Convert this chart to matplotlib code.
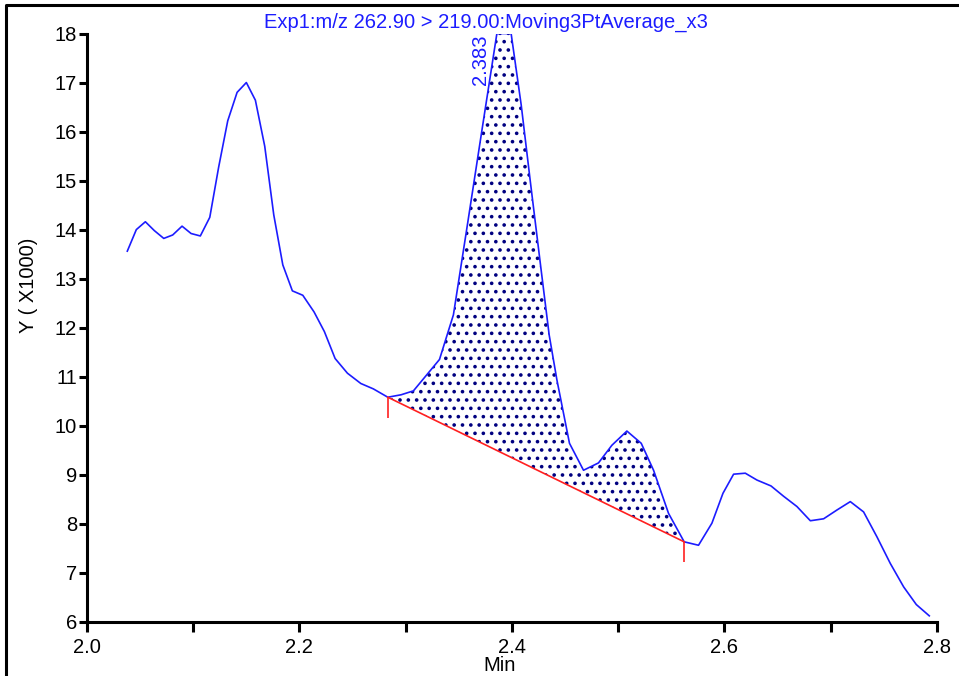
import numpy as np
import matplotlib.pyplot as plt
from matplotlib.lines import Line2D

plt.rcParams['font.family'] = ['Liberation Sans', 'DejaVu Sans']
plt.rcParams['hatch.linewidth'] = 1.4

# retention time (min) and intensity (x1000)
time = [2.0382, 2.0467, 2.0552, 2.0636, 2.0725, 2.0809, 2.0897, 2.0982, 2.1069,
        2.1158, 2.1242, 2.1327, 2.1415, 2.1502, 2.1587, 2.1675, 2.1760, 2.1845,
        2.1935, 2.2033, 2.2139, 2.2236, 2.2337, 2.2453, 2.2579, 2.2697, 2.2833,
        2.2958, 2.3074, 2.3319, 2.3450, 2.3584, 2.3720, 2.3859, 2.3993, 2.4088,
        2.4172, 2.4266, 2.4351, 2.4424, 2.4542, 2.4674, 2.4815, 2.4941, 2.5082,
        2.5217, 2.5333, 2.5474, 2.5621, 2.5756, 2.5882, 2.5986, 2.6086, 2.6196,
        2.6306, 2.6438, 2.6556, 2.6682, 2.6808, 2.6933, 2.7059, 2.7184, 2.7309,
        2.7435, 2.7560, 2.7686, 2.7805, 2.7927]
intensity = [13.56, 14.00, 14.16, 13.98, 13.82, 13.89, 14.07, 13.92, 13.87,
             14.25, 15.28, 16.22, 16.80, 17.00, 16.64, 15.70, 14.30, 13.28,
             12.75, 12.66, 12.32, 11.92, 11.37, 11.07, 10.86, 10.75, 10.58,
             10.63, 10.71, 11.35, 12.26, 14.13, 16.05, 18.00, 18.00, 16.54,
             15.01, 13.34, 11.85, 10.93, 9.64, 9.09, 9.24, 9.60, 9.89,
             9.64, 9.09, 8.21, 7.63, 7.56, 8.01, 8.62, 9.01, 9.03,
             8.89, 8.77, 8.56, 8.35, 8.06, 8.10, 8.28, 8.45, 8.24,
             7.73, 7.19, 6.71, 6.35, 6.12]

# integrated peak: baseline start / end and apex label
base_t = [2.2833, 2.5621]
base_y = [10.58, 7.63]
apex_rt = 2.383
title = "Exp1:m/z 262.90 > 219.00:Moving3PtAverage_x3"

blue = '#1c1cff'
fs = 14.5

fig = plt.figure(figsize=(9.59, 6.76), dpi=100)
ax = fig.add_axes([0.0904, 0.0803, 0.8867, 0.8701])

t = np.array(time)
y = np.array(intensity)
sel = (t >= base_t[0]) & (t <= base_t[1])
base = np.interp(t[sel], base_t, base_y)
ax.fill_between(t[sel], base, y[sel], facecolor='none', edgecolor='#000080',
                linewidth=0, hatch='..')
ax.plot(t, y, color=blue, lw=1.2)
ax.plot(base_t, base_y, color='#ff2020', lw=1.2)
ax.vlines(base_t, [v - 0.42 for v in base_y], base_y, color='#ff2020', lw=1.2)

ax.annotate(f"{apex_rt:.3f}", xy=(apex_rt, 18), xytext=(-3, -1),
            textcoords='offset points', rotation=90, ha='right', va='top',
            color=blue, fontsize=fs, annotation_clip=False)

ax.set_xlim(2.0, 2.8)
ax.set_ylim(6, 18)
ax.set_xticks([2.0, 2.2, 2.4, 2.6, 2.8])
ax.set_xticklabels(['2.0', '2.2', '2.4', '2.6', '2.8'])
ax.set_xticks([2.1, 2.3, 2.5, 2.7], minor=True)
ax.set_yticks(range(6, 19))
for s in ['top', 'right']:
    ax.spines[s].set_visible(False)
for s in ['left', 'bottom']:
    ax.spines[s].set_linewidth(2.2)
ax.tick_params(axis='x', which='both', length=7, width=2.2, labelsize=fs, pad=5)
ax.tick_params(axis='y', length=6, width=2.2, labelsize=fs, pad=1)

fig.text(486 / 959, 1 - 28 / 676, title, color=blue, fontsize=fs,
         ha='center', va='baseline')
fig.text(29 / 959, 1 - 285 / 676, "Y ( X1000)", rotation=90, fontsize=fs,
         ha='center', va='center')
fig.text(500 / 959, 1 / 676, "Min", fontsize=fs, ha='center', va='bottom')

# outer frame
fig.add_artist(Line2D([5.5 / 959, 5.5 / 959, 1.0], [0.0, 1 - 5 / 676, 1 - 5 / 676],
                      transform=fig.transFigure, color='black', lw=2.2))

fig.savefig('out.png', dpi=100)
